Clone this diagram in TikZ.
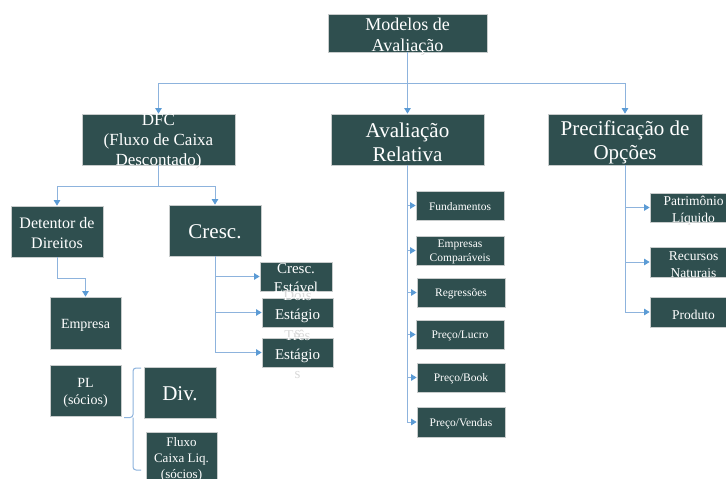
\documentclass[tikz,border=0pt]{standalone}
\usepackage{fontspec}
\setmainfont{Liberation Serif}
\usetikzlibrary{arrows.meta}
\definecolor{boxfill}{HTML}{2F4F4F}
\definecolor{boxline}{HTML}{C8CCCC}
\definecolor{conn}{HTML}{8DB3DD}
\definecolor{tipc}{HTML}{5B9BD5}
\definecolor{ghostc}{HTML}{D9D9D9}
\tikzset{
 boxs/.style={draw=boxline, fill=boxfill, line width=0.8pt, inner sep=0pt, rectangle},
 txt/.style={text=white, align=center, inner sep=0pt},
 ghost/.style={text=ghostc, align=center, inner sep=0pt},
 link/.style={draw=conn, line width=1pt, -{Triangle[length=5.5pt,width=6.5pt,color=tipc,fill=tipc]}},
 plain/.style={draw=conn, line width=1pt},
}
% name x1 y1 x2 y2 fontsize skip text down-offset
\newcommand\mybox[9]{%
 \node[ghost, font=\fontsize{#6}{#7}\selectfont] (#1-g) at ({(#2+#4)/2},{(#3+#5)/2+#9}) {#8};
 \node[boxs, minimum width={(#4-#2)*1pt}, minimum height={(#5-#3)*1pt}] (#1) at ({(#2+#4)/2},{(#3+#5)/2}) {};
 \begin{scope}
 \clip (#1.south west) rectangle (#1.north east);
 \node[txt, font=\fontsize{#6}{#7}\selectfont] (#1-t) at ([yshift=-#9pt]#1.center) {#8};
 \end{scope}
}
\begin{document}
\begin{tikzpicture}[x=1pt,y=-1pt]
\useasboundingbox (0,0) rectangle (726,479);
\clip (0,0) rectangle (726,479);
\fill[white] (0,0) rectangle (726,479);
\mybox{top}{328}{14}{487}{52}{18}{21.5}{Modelos de\\Avaliação}{3.5}
\mybox{dfc}{82}{114}{235}{165}{17}{20}{DFC\\(Fluxo de Caixa\\Descontado)}{2.5}
\mybox{aval}{331}{114}{484}{165}{21}{24}{Avaliação\\Relativa}{2.5}
\mybox{prec}{548}{114}{702}{165}{21}{24}{Precificação de\\Opções}{2.5}
\mybox{det}{11}{206}{103}{257}{16}{20}{Detentor de\\Direitos}{1.5}
\mybox{cresc}{169}{205}{261}{256}{21}{26}{Cresc.}{1}
\mybox{emp}{50}{297}{121}{349}{14}{17}{Empresa}{2}
\mybox{pl}{50}{365}{121}{416}{14}{17.5}{PL\\(sócios)}{2.5}
\mybox{div}{144}{367}{216}{418}{21}{25}{Div.}{1}
\mybox{fluxo}{146}{432}{217}{484}{13}{16}{Fluxo\\Caixa Liq.\\(sócios)}{1.5}
\mybox{cest}{260}{262}{332}{291}{15}{19}{Cresc.\\Estável}{2}
\mybox{dois}{262}{298}{333}{327}{15}{18.5}{Dois\\Estágio\\s}{2}
\mybox{tres}{262}{338}{333}{367}{15}{19}{Três\\Estágio\\s}{2}
\mybox{fund}{416}{191}{504}{220}{11.5}{14}{Fundamentos}{1.5}
\mybox{empc}{416}{236}{504}{265}{11.5}{14}{Empresas\\Comparáveis}{1.5}
\mybox{regr}{417}{278}{505}{307}{11.5}{14}{Regressões}{1.5}
\mybox{plu}{416}{320}{504}{349}{11.5}{14}{Preço/Lucro}{1.5}
\mybox{pb}{417}{363}{505}{392}{11.5}{14}{Preço/Book}{1.5}
\mybox{pv}{417}{407}{505}{437}{11.5}{14}{Preço/Vendas}{1.5}
\mybox{patr}{650}{193}{737}{222}{13.5}{17}{Patrimônio\\Líquido}{3}
\mybox{recn}{650}{247}{737}{277}{13.5}{17}{Recursos\\Naturais}{2.5}
\mybox{prod}{650}{297}{737}{327}{13.5}{17}{Produto}{2.5}
% connectors
\draw[link] (top.south) -- (aval.north);
\draw[link] (top.south) -- ++(0,31) -| (dfc.north);
\draw[link] (top.south) -- ++(0,31) -| (prec.north);
\draw[link] (dfc.south) -- ++(0,21) -| (det.north);
\draw[link] (dfc.south) -- ++(0,21) -| (cresc.north);
\draw[link] (det.south) -- ++(0,21) -| (emp.north);
\draw[link] (cresc.south) |- (cest.west);
\draw[link] (cresc.south) |- (dois.west);
\draw[link] (cresc.south) |- (tres.west);
\draw[link] (aval.south) |- (fund.west);
\draw[link] (aval.south) |- (empc.west);
\draw[link] (aval.south) |- (regr.west);
\draw[link] (aval.south) |- (plu.west);
\draw[link] (aval.south) |- (pb.west);
\draw[link] (aval.south) |- (pv.west);
\draw[link] (prec.south) |- (patr.west);
\draw[link] (prec.south) |- (recn.west);
\draw[link] (prec.south) |- (prod.west);
% brace
\coordinate (brt) at (141,368);
\coordinate (brm) at (133,417.5);
\coordinate (brtip) at (124,417.5);
\coordinate (brb) at (141,470);
\draw[plain, rounded corners=3pt] (brt) -| (brm) -- (brtip);
\draw[plain, rounded corners=3pt] (brb) -| (brm);
\end{tikzpicture}
\end{document}
